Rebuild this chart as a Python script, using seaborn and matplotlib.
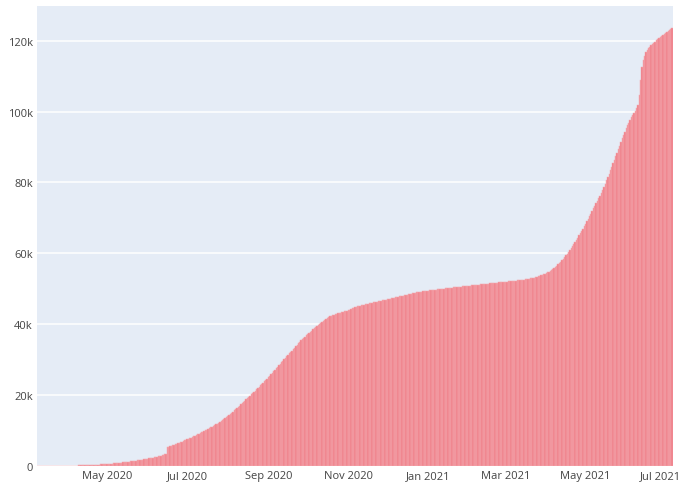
import numpy as np
import pandas as pd
import matplotlib
matplotlib.use("Agg")
import matplotlib.pyplot as plt
import matplotlib.transforms as mtransforms
from matplotlib.ticker import FuncFormatter
import seaborn as sns

# cumulative totals, one value per day
start_date = "2020-03-09"
mar_2020 = [0, 0, 0, 0, 0, 0, 0, 0, 0, 0, 0, 1, 2, 3, 5, 7, 10, 14, 18, 23, 29, 36, 45]
apr_2020 = [55, 65, 75, 86, 98, 110, 122, 135, 148, 162, 176, 190, 205, 220, 236, 252,
            268, 285, 302, 320, 338, 356, 375, 394, 413, 433, 453, 474, 495, 516]
may_2020 = [540, 575, 610, 645, 680, 720, 760, 800, 840, 880, 920, 965, 1010, 1055, 1100,
            1150, 1200, 1250, 1300, 1350, 1400, 1455, 1510, 1565, 1620, 1680, 1740, 1800,
            1860, 1920, 1985]
jun_2020 = [2050, 2120, 2200, 2280, 2360, 2450, 2540, 2640, 2740, 2850, 2960, 3080, 3200,
            3330, 3460, 5250, 5400, 5550, 5700, 5850, 6000, 6150, 6300, 6450, 6600, 6750,
            6900, 7060, 7220, 7380]
jul_2020 = [7540, 7700, 7860, 8030, 8200, 8370, 8540, 8720, 8900, 9080, 9270, 9460, 9650,
            9840, 10040, 10240, 10450, 10660, 10870, 11090, 11310, 11530, 11760, 11990,
            12220, 12460, 12700, 12950, 13200, 13460, 13720]
aug_2020 = [14000, 14330, 14660, 15000, 15340, 15680, 16020, 16360, 16700, 17050, 17400,
            17750, 18100, 18450, 18800, 19150, 19500, 19860, 20220, 20580, 20940, 21300,
            21660, 22020, 22390, 22760, 23130, 23500, 23870, 24240, 24610]
sep_2020 = [25030, 25450, 25870, 26290, 26710, 27130, 27550, 27970, 28390, 28810, 29230,
            29650, 30070, 30490, 30910, 31330, 31750, 32170, 32590, 33010, 33430, 33850,
            34270, 34690, 35100, 35480, 35850, 36200, 36540, 36870]
oct_2020 = [37200, 37530, 37860, 38190, 38520, 38850, 39170, 39490, 39800, 40100, 40400,
            40690, 40970, 41240, 41500, 41750, 41980, 42190, 42380, 42550, 42700, 42840,
            42970, 43090, 43200, 43310, 43420, 43530, 43640, 43750, 43860]
nov_2020 = [43970, 44080, 44200, 44450, 44650, 44780, 44900, 45010, 45120, 45230, 45330,
            45430, 45530, 45620, 45710, 45800, 45890, 45980, 46070, 46160, 46240, 46320,
            46400, 46480, 46560, 46640, 46720, 46800, 46880, 46960]
dec_2020 = [47040, 47120, 47200, 47290, 47380, 47470, 47560, 47650, 47740, 47830, 47920,
            48010, 48100, 48190, 48280, 48370, 48460, 48550, 48640, 48730, 48810, 48890,
            48970, 49040, 49100, 49160, 49220, 49280, 49340, 49400, 49450]
jan_2021 = [49500, 49550, 49600, 49650, 49700, 49745, 49790, 49835, 49880, 49925, 49970,
            50015, 50060, 50105, 50150, 50195, 50240, 50285, 50330, 50375, 50420, 50465,
            50510, 50555, 50600, 50640, 50680, 50720, 50760, 50800, 50840]
feb_2021 = [50880, 50920, 50960, 51000, 51040, 51080, 51120, 51160, 51200, 51240, 51280,
            51320, 51360, 51400, 51440, 51480, 51520, 51560, 51600, 51640, 51680, 51720,
            51760, 51800, 51840, 51880, 51920, 51960]
mar_2021 = [52000, 52040, 52080, 52120, 52160, 52200, 52240, 52280, 52320, 52360, 52410,
            52460, 52510, 52560, 52620, 52680, 52740, 52800, 52860, 52930, 53000, 53080,
            53170, 53270, 53380, 53500, 53630, 53770, 53920, 54080, 54250]
apr_2021 = [54440, 54650, 54870, 55100, 55350, 55620, 55910, 56220, 56550, 56900, 57270,
            57660, 58070, 58500, 58950, 59420, 59910, 60420, 60950, 61500, 62070, 62650,
            63240, 63840, 64450, 65070, 65700, 66340, 66990, 67650]
may_2021 = [68350, 69060, 69780, 70510, 71240, 71960, 72680, 73390, 74100, 74800, 75520,
            76260, 77100, 77950, 78820, 79710, 80620, 81550, 82500, 83460, 84430, 85410,
            86400, 87400, 88410, 89420, 90430, 91440, 92430, 93400, 94350]
jun_2021 = [95250, 96100, 96900, 97650, 98350, 99000, 99650, 100300, 100950, 101800,
            104600, 108800, 112500, 114500, 115800, 116700, 117300, 117850, 118300, 118700,
            119050, 119400, 119750, 120100, 120450, 120800, 121150, 121450, 121750, 122000]
jul_2021 = [122250, 122500, 122750, 123000, 123250, 123500]

tick_months = ["2020-05-01", "2020-07-01", "2020-09-01", "2020-11-01",
               "2021-01-01", "2021-03-01", "2021-05-01", "2021-07-01"]
tick_labels = ["May 2020", "Jul 2020", "Sep 2020", "Nov 2020",
               "Jan 2021", "Mar 2021", "May 2021", "Jul 2021"]
y_ticks = [0, 20000, 40000, 60000, 80000, 100000, 120000]

values = (mar_2020 + apr_2020 + may_2020 + jun_2020 + jul_2020 + aug_2020 + sep_2020
          + oct_2020 + nov_2020 + dec_2020 + jan_2021 + feb_2021 + mar_2021 + apr_2021
          + may_2021 + jun_2021 + jul_2021)
dates = pd.date_range(start_date, periods=len(values), freq="D")
df = pd.DataFrame({"day": np.arange(len(values)), "date": dates, "total": values})

sns.set_theme(style="white")
plt.rcParams["font.family"] = ["Open Sans", "DejaVu Sans"]

fig = plt.figure(figsize=(6.83, 4.85), dpi=100)
ax = fig.add_axes([0.0542, 0.0371, 0.9308, 0.9485])
ax.set_facecolor("#E5ECF6")

# thin light edges give the soft striping of the original bars
sns.barplot(data=df, x="day", y="total", color="#EF7C86", saturation=1,
            width=1.0, edgecolor="#F4AAB0", linewidth=0.35, errorbar=None, ax=ax, zorder=2)

tick_pos = [int(df.loc[df["date"] == pd.Timestamp(m), "day"].iloc[0]) for m in tick_months]
ax.set_xticks(tick_pos)
ax.set_xticklabels(tick_labels)
ax.set_xlim(-0.5, len(values) - 0.5)

ax.set_ylim(0, 129800)
ax.set_yticks(y_ticks)
ax.yaxis.set_major_formatter(FuncFormatter(lambda v, p: "0" if v == 0 else f"{int(v / 1000)}k"))
ax.grid(axis="y", color="white", linewidth=1.1, zorder=1)
ax.set_axisbelow(True)

ax.set_xlabel("")
ax.set_ylabel("")
ax.tick_params(axis="both", length=0, labelsize=8, colors="#444444", pad=3)
for s in ax.spines.values():
    s.set_visible(False)

# keep the last month label inside the canvas
last = ax.get_xticklabels()[-1]
last.set_transform(last.get_transform() + mtransforms.ScaledTranslation(-4 / 72, 0, fig.dpi_scale_trans))

fig.savefig("out.png", dpi=100, facecolor="white")
